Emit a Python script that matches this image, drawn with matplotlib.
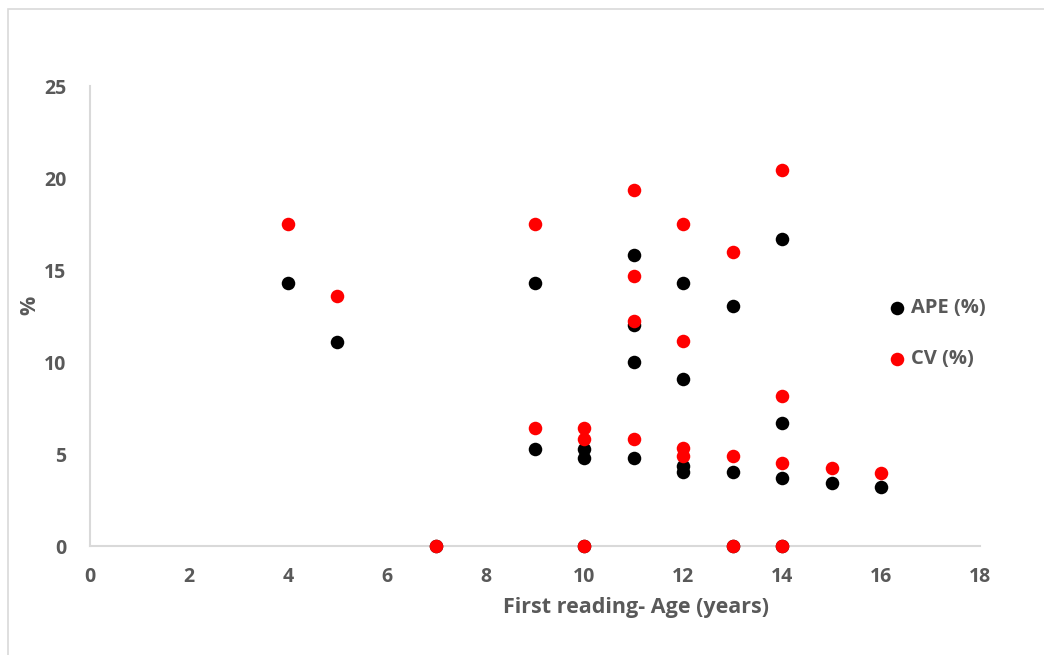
import matplotlib
matplotlib.use('Agg')
from matplotlib import pyplot as plt  # noqa
from matplotlib.patches import Rectangle

# first reading age (years) and the APE / CV values for each fish
age = [4, 5, 7, 9, 9, 10, 10, 10, 11, 11, 11, 11,
       12, 12, 12, 12, 13, 13, 13, 14, 14, 14, 14, 15, 16]
ape = [14.29, 11.11, 0.0, 14.29, 5.26, 5.26, 4.76, 0.0, 15.79, 12.0, 10.0, 4.76,
       14.29, 9.09, 4.35, 4.0, 13.04, 4.0, 0.0, 16.67, 6.67, 3.7, 0.0, 3.45, 3.23]
cv = [17.5, 13.61, 0.0, 17.5, 6.44, 6.44, 5.83, 0.0, 19.34, 14.7, 12.25, 5.83,
      17.5, 11.13, 5.33, 4.9, 15.97, 4.9, 0.0, 20.41, 8.16, 4.53, 0.0, 4.22, 3.96]

x_ticks = [0, 2, 4, 6, 8, 10, 12, 14, 16, 18]
y_ticks = [0, 5, 10, 15, 20, 25]

GRAY = '#595959'
LINE = '#d9d9d9'

plt.rcParams['font.family'] = ['Open Sans', 'DejaVu Sans']

fig = plt.figure(figsize=(10.44, 6.55), dpi=100)
ax = fig.add_axes([0.0862, 0.1664, 0.8525, 0.7023])

ax.scatter(age, ape, s=95, color='black', label='APE (%)', zorder=3,
           clip_on=False, linewidths=0)
ax.scatter(age, cv, s=95, color='#ff0000', label='CV (%)', zorder=4,
           clip_on=False, linewidths=0)

ax.set_xlim(0, 18)
ax.set_ylim(0, 25)
ax.set_xticks(x_ticks)
ax.set_yticks(y_ticks)
ax.tick_params(length=0, labelsize=14, labelcolor=GRAY)
ax.tick_params(axis='x', pad=15)
ax.tick_params(axis='y', pad=17)
for lbl in ax.get_xticklabels() + ax.get_yticklabels():
    lbl.set_fontweight('bold')

for side in ['top', 'right']:
    ax.spines[side].set_visible(False)
for side in ['left', 'bottom']:
    ax.spines[side].set_color(LINE)
    ax.spines[side].set_linewidth(1.5)

ax.set_xlabel('First reading- Age (years)', fontsize=15.5, fontweight='bold',
              color=GRAY)
ax.xaxis.set_label_coords(0.613, -0.11)
ax.set_ylabel('%', fontsize=15.5, fontweight='bold', color=GRAY)
ax.yaxis.set_label_coords(-0.056, 0.524)

leg = ax.legend(loc='upper left', bbox_to_anchor=(0.875, 0.578), frameon=False,
                handletextpad=0.2, labelspacing=1.55, handlelength=1.0,
                prop={'size': 14.5, 'weight': 'bold'})
for txt in leg.get_texts():
    txt.set_color(GRAY)

# chart area border
fig.patches.append(Rectangle((8 / 1044, -0.1), 1.2, 1.1 - 9 / 655,
                             transform=fig.transFigure, fill=False,
                             edgecolor=LINE, linewidth=1.2))

fig.savefig('out.png', dpi=100)
